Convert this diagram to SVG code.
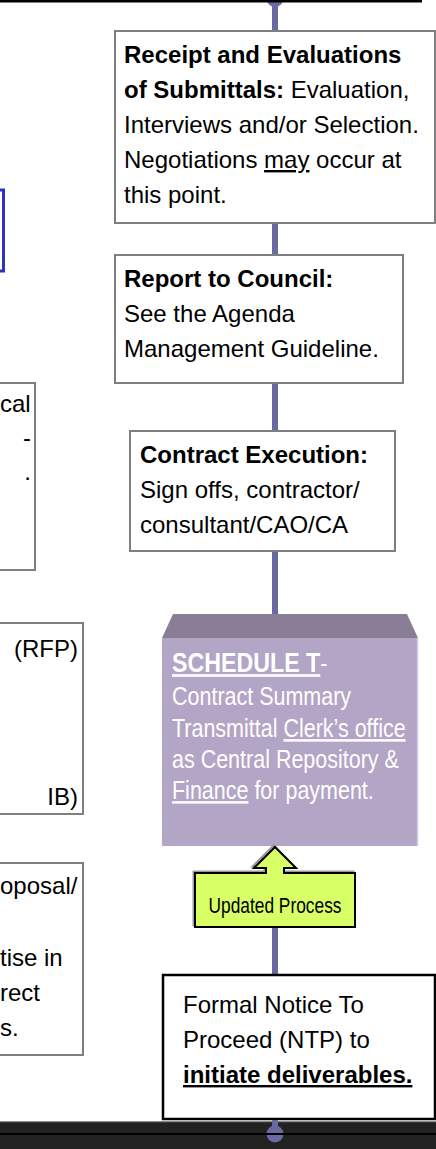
<svg xmlns="http://www.w3.org/2000/svg" width="436" height="1149" viewBox="0 0 436 1149">
<style>
.t{font-family:"Liberation Sans",Arial,sans-serif;font-size:24px;fill:#000}
.b{font-weight:bold}
.u{text-decoration:underline}
.box{fill:#fff;stroke:#7f7f7f;stroke-width:2}
.conn{stroke:#6a6aa2;stroke-width:6;fill:none}
.st{font-family:"Liberation Sans",Arial,sans-serif;font-size:25px;fill:#fff}
</style>
<defs>
<path id="callout" d="M195,873 H266 V868 H254 L275,847 L296,868 H284 V873 H355 V927 H195 Z"/>
</defs>
<rect x="0" y="0" width="436" height="1149" fill="#fff"/>
<g id="connectors">
<circle cx="275" cy="-1" r="8" fill="#6a6aa2"/>
<line class="conn" x1="275" y1="0" x2="275" y2="31"/>
<line class="conn" x1="275" y1="223" x2="275" y2="255"/>
<line class="conn" x1="275" y1="383" x2="275" y2="431"/>
<line class="conn" x1="275" y1="551" x2="275" y2="614"/>
<line class="conn" x1="275" y1="927" x2="275" y2="975"/>
<line class="conn" x1="275" y1="1120" x2="275" y2="1134"/>
</g>
<rect x="0" y="0" width="422" height="2.5" fill="#000"/>
<g id="left-blue"><rect x="-20" y="190" width="23.5" height="81" fill="none" stroke="#3030c8" stroke-width="3"/></g>
<g id="left-1">
<rect class="box" x="-20" y="383" width="55" height="187"/>
<text class="t" x="0" y="412">cal</text>
<text class="t" x="31" y="446" text-anchor="end">-</text>
<text class="t" x="31" y="480" text-anchor="end">.</text>
</g>
<g id="left-2">
<rect class="box" x="-20" y="623" width="103" height="191"/>
<text class="t" x="78" y="657" text-anchor="end">(RFP)</text>
<text class="t" x="78" y="805" text-anchor="end">IB)</text>
</g>
<g id="left-3">
<rect class="box" x="-20" y="863" width="103" height="192"/>
<text class="t" x="0" y="894">oposal/</text>
<text class="t" x="0" y="966">tise in</text>
<text class="t" x="0" y="1001">rect</text>
<text class="t" x="0" y="1036">s.</text>
</g>
<g id="receipt">
<rect class="box" x="115" y="31" width="320" height="192"/>
<text class="t" x="124" y="63"><tspan class="b">Receipt and Evaluations</tspan></text>
<text class="t" x="124" y="98"><tspan class="b">of Submittals:</tspan> Evaluation,</text>
<text class="t" x="124" y="133">Interviews and/or Selection.</text>
<text class="t" x="124" y="168">Negotiations <tspan class="u">may</tspan> occur at</text>
<text class="t" x="124" y="203">this point.</text>
</g>
<g id="report">
<rect class="box" x="115" y="255" width="288" height="128"/>
<text class="t b" x="124" y="287">Report to Council:</text>
<text class="t" x="124" y="322">See the Agenda</text>
<text class="t" x="124" y="357">Management Guideline.</text>
</g>
<g id="contract">
<rect class="box" x="130" y="431" width="265" height="120"/>
<text class="t b" x="140" y="463">Contract Execution:</text>
<text class="t" x="140" y="498">Sign offs, contractor/</text>
<text class="t" x="140" y="533">consultant/CAO/CA</text>
</g>
<g id="schedule">
<polygon points="173,614 407,614 418,638 162,638" fill="#8a7e96"/>
<rect x="162" y="638" width="256" height="208" fill="#b3a5c5"/>
<line x1="417.5" y1="638" x2="417.5" y2="846" stroke="#d6c8ee" stroke-width="1.5"/>
<g transform="translate(172,0) scale(0.86,1)">
<text class="st" x="0" y="672"><tspan class="b u" font-size="27">SCHEDULE T</tspan>-</text>
<text class="st" x="0" y="705">Contract Summary</text>
<text class="st" x="0" y="737">Transmittal <tspan class="u">Clerk’s office</tspan></text>
<text class="st" x="0" y="768">as Central Repository &amp;</text>
<text class="st" x="0" y="799"><tspan class="u">Finance</tspan> for payment.</text>
</g>
</g>
<g id="updated">
<use href="#callout" transform="translate(-1.5,-1.5)" fill="none" stroke="#9a9a9a" stroke-width="2"/>
<use href="#callout" fill="#d9ff66" stroke="#000" stroke-width="2"/>
<text x="275" y="913" text-anchor="middle" font-family="Liberation Sans, Arial, sans-serif" font-size="22" textLength="133" lengthAdjust="spacingAndGlyphs">Updated Process</text>
</g>
<g id="ntp">
<rect x="163" y="975" width="272" height="144" fill="#fff" stroke="#000" stroke-width="2.5"/>
<text class="t" x="183" y="1013">Formal Notice To</text>
<text class="t" x="183" y="1048">Proceed (NTP) to</text>
<text class="t b u" x="183" y="1083">initiate deliverables.</text>
</g>
<g id="bottom">
<rect x="0" y="1121" width="436" height="28" fill="#222"/>
<rect x="0" y="1121" width="436" height="1.2" fill="#8a8a8a"/>
<line x1="275" y1="1120" x2="275" y2="1134" stroke="#6a6aa2" stroke-width="6"/>
<circle cx="275" cy="1134" r="8.5" fill="#6a6aa2"/>
<rect x="0" y="1133" width="436" height="2" fill="#000"/>
</g>
</svg>
